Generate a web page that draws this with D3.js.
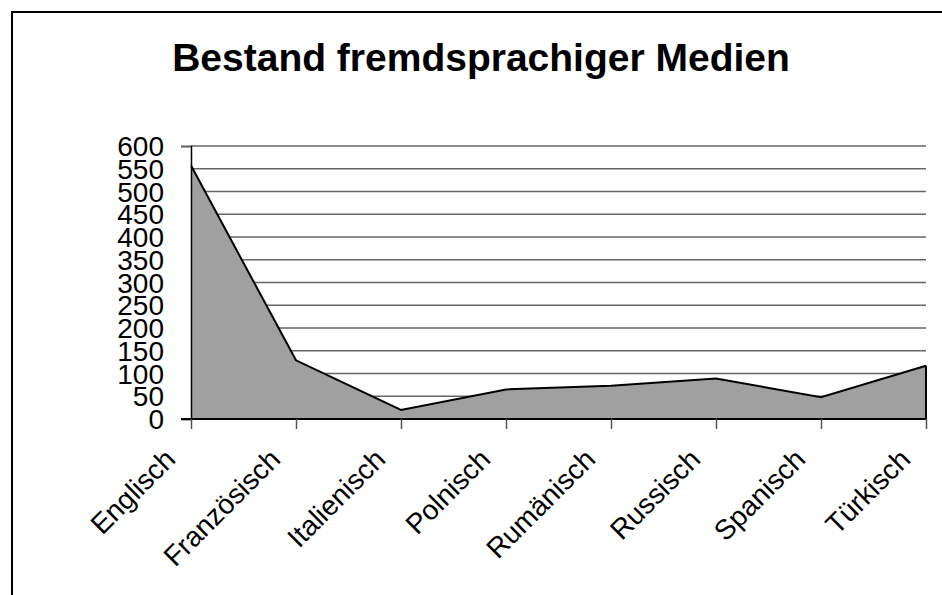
<!DOCTYPE html>
<html>
<head>
<meta charset="utf-8">
<style>
body{
    margin: 0;
    background: #fff;
}
text{
    font-family: "Liberation Sans", Arial, sans-serif;
}
</style>
</head>
<body>
<svg id="chart"></svg>
<script src="https://cdn.jsdelivr.net/npm/d3@7/dist/d3.min.js"></script>
<script>
var languages = ["Englisch", "Französisch", "Italienisch", "Polnisch", "Rumänisch", "Russisch", "Spanisch", "Türkisch"];
var counts = [557, 129, 20, 65, 73, 89, 48, 117];
var yTicks = [0, 50, 100, 150, 200, 250, 300, 350, 400, 450, 500, 550, 600];
var title = "Bestand fremdsprachiger Medien";

var width = 942, height = 595;
var plot = {left: 191, right: 926, top: 146, bottom: 419};

var svg = d3.select("#chart")
    .attr("width", width)
    .attr("height", height);

// outer frame
svg.append("rect")
    .attr("x", 12).attr("y", 12)
    .attr("width", 960).attr("height", 620)
    .attr("fill", "none")
    .attr("stroke", "#000")
    .attr("stroke-width", 2);

svg.append("text")
    .attr("x", 481).attr("y", 71)
    .attr("text-anchor", "middle")
    .attr("font-size", 39)
    .attr("font-weight", "bold")
    .text(title);

var x = d3.scalePoint().domain(languages).range([plot.left, plot.right]);
var y = d3.scaleLinear().domain([0, 600]).range([plot.bottom, plot.top]);

// gridlines
svg.append("g").selectAll("line").data(yTicks.filter(function (d) { return d > 0; }))
    .enter().append("line")
    .attr("x1", plot.left).attr("x2", plot.right)
    .attr("y1", function (d) { return y(d); })
    .attr("y2", function (d) { return y(d); })
    .attr("stroke", "#666")
    .attr("stroke-width", 1.5);

// area
var area = d3.area()
    .x(function (d, i) { return x(languages[i]); })
    .y0(y(0))
    .y1(function (d) { return y(d); });
svg.append("path")
    .datum(counts)
    .attr("d", area)
    .attr("fill", "#a0a0a0");

var line = d3.line()
    .x(function (d, i) { return x(languages[i]); })
    .y(function (d) { return y(d); });
svg.append("path")
    .datum(counts)
    .attr("d", line)
    .attr("fill", "none")
    .attr("stroke", "#000")
    .attr("stroke-width", 2);

// right edge of the area
svg.append("line")
    .attr("x1", x(languages[languages.length - 1])).attr("x2", x(languages[languages.length - 1]))
    .attr("y1", y(counts[counts.length - 1])).attr("y2", y(0))
    .attr("stroke", "#000").attr("stroke-width", 2);

// y axis
var yAxis = svg.append("g")
    .attr("transform", "translate(" + plot.left + ",0)")
    .call(d3.axisLeft(y).tickValues([0, 600]).tickSize(10).tickFormat(""));
yAxis.select(".domain").attr("stroke", "#000").attr("stroke-width", 1.5);
yAxis.selectAll(".tick line").attr("stroke", "#666").attr("stroke-width", 1.5);

svg.append("g").selectAll("text").data(yTicks)
    .enter().append("text")
    .attr("x", 164)
    .attr("y", function (d) { return y(d); })
    .attr("dy", "0.36em")
    .attr("text-anchor", "end")
    .attr("font-size", 28)
    .text(function (d) { return d; });

// x axis
var xAxis = svg.append("g")
    .attr("transform", "translate(0," + plot.bottom + ")")
    .call(d3.axisBottom(x).tickSize(10).tickFormat(""));
xAxis.select(".domain").attr("d", "M" + (plot.left - 10) + ",0H" + plot.right)
    .attr("stroke", "#000").attr("stroke-width", 2);
xAxis.selectAll(".tick line").attr("stroke", "#555").attr("stroke-width", 1.5);

svg.append("g").selectAll("text").data(languages)
    .enter().append("text")
    .attr("transform", function (d) {
        return "translate(" + (x(d) - 14) + "," + (plot.bottom + 42) + ") rotate(-45)";
    })
    .attr("text-anchor", "end")
    .attr("font-size", 28)
    .text(function (d) { return d; });
</script>
</body>
</html>
